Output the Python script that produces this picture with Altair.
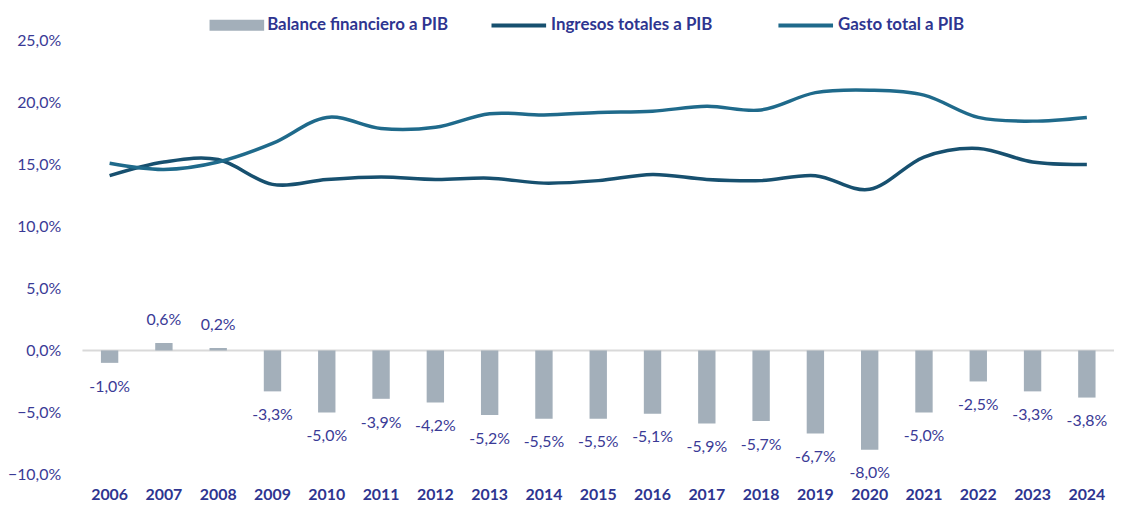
import altair as alt
import pandas as pd

years = [str(y) for y in range(2006, 2025)]
balance = [-1.0, 0.6, 0.2, -3.3, -5.0, -3.9, -4.2, -5.2, -5.5, -5.5, -5.1, -5.9, -5.7, -6.7, -8.0, -5.0, -2.5, -3.3, -3.8]
ingresos = [14.1, 15.2, 15.4, 13.4, 13.8, 14.0, 13.8, 13.9, 13.5, 13.7, 14.2, 13.8, 13.7, 14.1, 13.0, 15.6, 16.3, 15.2, 15.0]
gasto = [15.1, 14.6, 15.2, 16.7, 18.8, 17.9, 18.0, 19.1, 19.0, 19.2, 19.3, 19.7, 19.4, 20.8, 21.0, 20.6, 18.8, 18.5, 18.8]

BAL = "Balance financiero a PIB"
ING = "Ingresos totales a PIB"
GAS = "Gasto total a PIB"

TXT = "#3a3a96"
LEG = "#2e3590"
FONT = "Lato"

bars_df = pd.DataFrame({
    "year": years,
    "value": balance,
    "serie": [BAL] * len(years),
    "label": [f"{v:.1f}".replace(".", ",") + "%" for v in balance],
})
lines_df = pd.DataFrame({
    "year": years * 2,
    "value": ingresos + gasto,
    "serie": [ING] * len(years) + [GAS] * len(years),
})
zero_df = pd.DataFrame({"z": [0]})

x_enc = alt.X(
    "year:O",
    title=None,
    sort=years,
    scale=alt.Scale(paddingInner=0.68, paddingOuter=0.34),
    axis=alt.Axis(labelAngle=0, labelFont=FONT, labelFontSize=16, labelFontWeight="bold",
                  labelColor=LEG, labelPadding=12, domain=False, ticks=False, grid=False),
)
y_scale = alt.Scale(domain=[-10, 25], nice=False, zero=False)
y_axis = alt.Axis(values=[-10, -5, 0, 5, 10, 15, 20, 25],
                  labelExpr="replace(format(datum.value, '.1f'), '.', ',') + '%'",
                  labelFont=FONT, labelFontSize=16, labelColor=TXT, labelPadding=22,
                  domain=False, ticks=False, grid=False)

zero = alt.Chart(zero_df).mark_rule(color="#d9d9d9", strokeWidth=2).encode(
    y=alt.Y("z:Q", scale=y_scale, axis=y_axis, title=None)
)

bars = alt.Chart(bars_df).mark_bar(stroke=None).encode(
    x=x_enc,
    y=alt.Y("value:Q", title=None, scale=y_scale, axis=y_axis),
    color=alt.Color(
        "serie:N",
        scale=alt.Scale(domain=[BAL], range=["#a3afba"]),
        legend=alt.Legend(
            title=None, orient="none", legendX=147, legendY=-24, direction="horizontal",
            symbolType="M-5,-1H5V1H-5Z", symbolSize=121, symbolStrokeWidth=0,
            symbolOpacity=1, labelOffset=22, labelFont=FONT, labelFontSize=17,
            labelFontWeight="bold", labelColor=LEG, labelLimit=400, padding=0,
        ),
    ),
)

lines = alt.Chart(lines_df).mark_line(interpolate="cardinal", strokeWidth=3.5).encode(
    x=alt.X("year:O", sort=years),
    y=alt.Y("value:Q", scale=y_scale),
    stroke=alt.Stroke(
        "serie:N",
        scale=alt.Scale(domain=[ING, GAS], range=["#17506f", "#1f6a8b"]),
        legend=alt.Legend(
            title=None, orient="none", legendX=431, legendY=-24, direction="horizontal",
            symbolType="M-5,0H5", symbolSize=121, symbolStrokeWidth=4,
            labelOffset=24, labelFont=FONT, labelFontSize=17, labelFontWeight="bold",
            labelColor=LEG, labelLimit=400, columnPadding=58, padding=0,
        ),
    ),
    detail="serie:N",
)

text_pos = alt.Chart(bars_df).transform_filter("datum.value >= 0").mark_text(
    baseline="middle", dy=-23, font=FONT, fontSize=16, color=TXT
).encode(x=alt.X("year:O", sort=years), y=alt.Y("value:Q", scale=y_scale), text="label:N")

text_neg = alt.Chart(bars_df).transform_filter("datum.value < 0").mark_text(
    baseline="middle", dy=24, font=FONT, fontSize=16, color=TXT
).encode(x=alt.X("year:O", sort=years), y=alt.Y("value:Q", scale=y_scale), text="label:N")

chart = alt.layer(zero, bars, lines, text_pos, text_neg).resolve_scale(
    color="independent", stroke="independent"
).properties(
    width=1039,
    height=437,
    background="white",
    autosize=alt.AutoSizeParams(type="none"),
    padding={"left": 75, "top": 31, "right": 0, "bottom": 29},
).configure_view(strokeWidth=0, stroke=None)

chart.save("out.html", embed_options={"renderer": "svg", "actions": False})
